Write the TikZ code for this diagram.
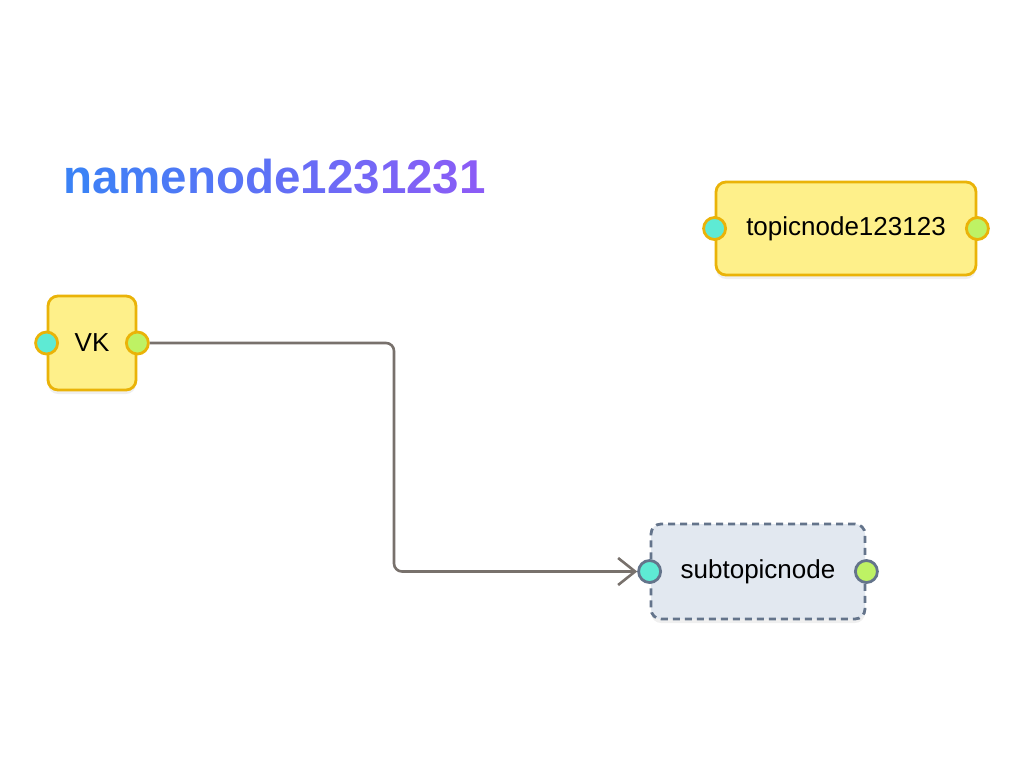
\documentclass[tikz,border=0pt]{standalone}
\usepackage{fontspec}
\setmainfont{Liberation Sans}
\usetikzlibrary{arrows.meta,shadows}
\definecolor{gA}{HTML}{3B82F6}
\definecolor{gB}{HTML}{8B5CF6}
\definecolor{yfill}{HTML}{FEF08A}
\definecolor{ydraw}{HTML}{EAB308}
\definecolor{sfill}{HTML}{E2E8F0}
\definecolor{sdraw}{HTML}{64748B}
\definecolor{pin}{HTML}{5EEAD4}
\definecolor{pout}{HTML}{BEF264}
\definecolor{edgec}{HTML}{78716C}
\tikzset{
  card/.style={rectangle, rounded corners=10pt, line width=2.8pt, inner sep=0pt,
    font=\fontsize{26}{30}\selectfont,
    drop shadow={opacity=0.12, shadow xshift=0pt, shadow yshift=-4pt}},
  topiccard/.style={card, fill=yfill, draw=ydraw},
  subcard/.style={card, fill=sfill, draw=sdraw, dash pattern=on 7pt off 5pt},
  port/.style={circle, minimum size=22pt, inner sep=0pt, line width=2.8pt},
  inport/.style={port, fill=pin},
  outport/.style={port, fill=pout},
  link/.style={draw=edgec, line width=2.6pt, rounded corners=8pt,
    -{Straight Barb[length=17pt,width=27pt,line width=2.6pt]}}
}
\newcommand{\gc}[2]{\textcolor{gB!#1!gA}{#2}}
\begin{document}
\begin{tikzpicture}[x=1pt,y=-1pt]
\useasboundingbox[fill=white] (0,0) rectangle (1024,768);
% title
\node[anchor=base west, inner sep=0pt, font=\fontsize{47.5}{56}\selectfont\bfseries] (title) at (63,193)
  {\gc{0}{n}\gc{7}{a}\gc{14}{m}\gc{21}{e}\gc{29}{n}\gc{36}{o}\gc{43}{d}\gc{50}{e}\gc{57}{1}\gc{64}{2}\gc{71}{3}\gc{79}{1}\gc{86}{2}\gc{93}{3}\gc{100}{1}};
% topic node
\node[topiccard, minimum width=260pt, minimum height=93pt] (topic) at (846,228.5) {topicnode123123};
\node[inport, draw=ydraw] (topicin) at (topic.west) {};
\node[outport, draw=ydraw] (topicout) at (topic.east) {};
% VK node
\node[topiccard, minimum width=88pt, minimum height=94pt] (vk) at (92,343) {VK};
\node[inport, draw=ydraw] (vkin) at (vk.west) {};
\node[outport, draw=ydraw] (vkout) at (vk.east) {};
% subtopic node
\node[subcard, minimum width=214pt, minimum height=95pt] (sub) at (758,571.5) {subtopicnode};
\node[inport, draw=sdraw] (subin) at (sub.west) {};
\node[outport, draw=sdraw] (subout) at (sub.east) {};
% edge
\coordinate (mid) at (394,450);
\draw[link] (vkout.east) -| (mid) |- (subin.west);
\end{tikzpicture}
\end{document}
